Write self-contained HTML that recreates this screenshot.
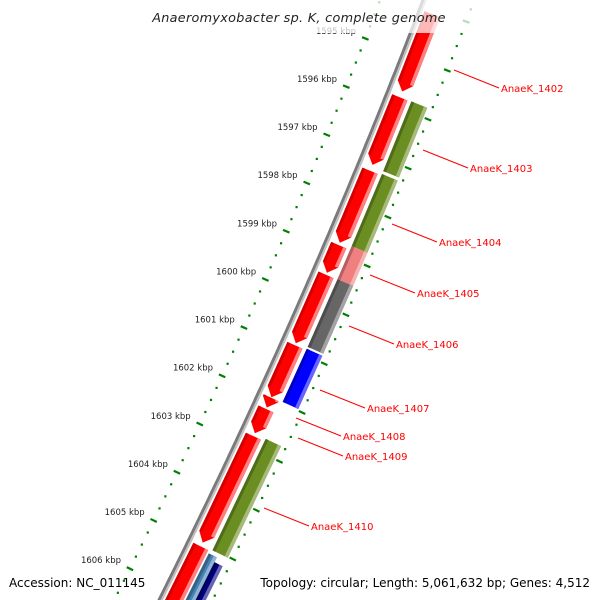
<!DOCTYPE html>
<html><head><meta charset="utf-8"><style>
html,body{margin:0;background:#fff;overflow:hidden;width:600px;height:600px}
svg{display:block;font-family:"DejaVu Sans","Liberation Sans",sans-serif;overflow:hidden}
</style></head><body>
<svg id="map" width="600" height="600" viewBox="0 0 600 600" xmlns="http://www.w3.org/2000/svg">
<defs><clipPath id="clip"><rect x="0" y="0" width="600" height="600"/></clipPath></defs>
<g clip-path="url(#clip)">
<g id="ticks"></g>
<g id="backbone"></g>
<g id="genes"></g>
<g id="labels"></g>
</g>
<rect x="0" y="0" width="600" height="33" fill="#fff" fill-opacity="0.72"/>
<text x="299" y="22" text-anchor="middle" font-size="12.8" font-style="italic" fill="#222" letter-spacing="0.3">Anaeromyxobacter sp. K, complete genome</text>
<text x="9" y="587" font-size="12" fill="#000">Accession: NC_011145</text>
<text x="590" y="587" text-anchor="end" font-size="12" fill="#000">Topology: circular; Length: 5,061,632 bp; Genes: 4,512</text>
</svg>
<script>
// data
const tickKbp = [1595,1596,1597,1598,1599,1600,1601,1602,1603,1604,1605,1606];
const fwdStart = [1594.10,1595.81,1597.32,1598.85,1599.46,1600.91,1601.99,1602.22,1602.78,1605.05];
const fwdEnd   = [1595.69,1597.20,1598.80,1599.42,1600.87,1601.98,1602.19,1602.72,1604.97,1606.80];
const revStart = [1593.0,1595.80,1597.29,1598.77,1599.45,1600.88,1602.73,1605.10,1605.20];
const revEnd   = [1593.75,1597.23,1598.77,1599.45,1600.84,1601.97,1605.02,1606.80,1606.80];
const revColor = ['#0000ff','#6b8e23','#6b8e23','#f08080','#666666','#0000ff','#6b8e23','#4682b4','#000080'];
const revLane  = [0,0,0,0,0,0,0,1,2];
const labelNames = ['AnaeK_1402','AnaeK_1403','AnaeK_1404','AnaeK_1405','AnaeK_1406','AnaeK_1407','AnaeK_1408','AnaeK_1409','AnaeK_1410'];

const NS='http://www.w3.org/2000/svg';
function yb(k){return 53+(k-1595)*48.5;}
function P(k,off){const y=yb(k);const x=423-0.38*y-0.0001*y*y;const s=0.38+0.0002*y;const L=Math.sqrt(1+s*s);return [x+off/L,y+off*s/L];}
function pts(a){return a.map(p=>p[0].toFixed(1)+','+p[1].toFixed(1)).join(' ');}
function mk(tag,attrs,parent){const e=document.createElementNS(NS,tag);for(const k in attrs)e.setAttribute(k,attrs[k]);parent.appendChild(e);return e;}
function curve(off,k1,k2){const a=[];for(let k=k1;k<=k2;k+=0.1)a.push(P(k,off));return a;}

// backbone
const bb=document.getElementById('backbone');
let e=mk('polyline',{points:pts(curve(0,1593,1607.2)),fill:'none',stroke:'#7a7a7a','stroke-width':3},bb);


e=mk('polyline',{points:pts(curve(2.5,1593,1607.2)),fill:'none',stroke:'#c0c0c0','stroke-width':2},bb);



// ticks rings
const tg=document.getElementById('ticks');
[-40,48].forEach(off=>{
  for(let k=1593;k<=1607.2;k+=0.25){
    const kk=Math.round(k*100)/100;
    if(Number.isInteger(kk)){
      const a=P(kk,off-3.5),b=P(kk,off+3.5);
      e=mk('line',{x1:a[0],y1:a[1],x2:b[0],y2:b[1],stroke:'#008000','stroke-width':2.2},tg);
      
      
    } else {
      const a=P(kk,off);
      e=mk('rect',{x:a[0]-1.1,y:a[1]-1.1,width:2.2,height:2.2,fill:'#008000'},tg);
      
      
    }
  }
});
tickKbp.forEach(k=>{
  const a=P(k,-50);
  e=mk('text',{x:a[0].toFixed(1),y:(a[1]-1).toFixed(1),'text-anchor':'end','font-size':8.5,fill:'#222'},tg);
  e.textContent=k+' kbp';
  
  
});

// genes
const gg=document.getElementById('genes');
function gene(k1,k2,a,b,col,dark,light,arrow,name){
  const h=arrow?0.17:0;
  const g=mk('g',{},gg);
  
  
  const body=arrow?[P(k1,a),P(k1,b),P(k2-h,b),P(k2,(a+b)/2),P(k2-h,a)]:[P(k1,a),P(k1,b),P(k2,b),P(k2,a)];
  mk('polygon',{points:pts(body),fill:col},g);
  mk('polygon',{points:pts([P(k1,a),P(k1,a+3),P(k2-h,a+3),P(k2-h,a)]),fill:dark},g);
  mk('polygon',{points:pts([P(k1,b-3.5),P(k1,b),P(k2-h,b),P(k2-h,b-3.5)]),fill:light},g);
}
for(let i=0;i<fwdStart.length;i++){
  gene(fwdStart[i],fwdEnd[i],5.5,22,'#ff0000','#d40000','#ff8080',true,'forward-gene-'+(i+1));
}
const lanes=[[26,43],[24,33],[33,42]];
function lighten(c){const n=parseInt(c.slice(1),16);const r=n>>16,g=(n>>8)&255,b=n&255;const f=v=>Math.round(v+(255-v)*0.4);return 'rgb('+f(r)+','+f(g)+','+f(b)+')';}
function darken(c){const n=parseInt(c.slice(1),16);const r=n>>16,g=(n>>8)&255,b=n&255;const f=v=>Math.round(v*0.75);return 'rgb('+f(r)+','+f(g)+','+f(b)+')';}
for(let i=0;i<revStart.length;i++){
  const l=(i===0)?[-20,-8]:lanes[revLane[i]];
  gene(revStart[i],revEnd[i],l[0],l[1],revColor[i],darken(revColor[i]),lighten(revColor[i]),false,'reverse-gene-'+(i+1));
}

// labels
const lg=document.getElementById('labels');
const lx1=[454,423,392,370,349,320,296,298,264];
const ly1=[70,150,224,275,326,390,418,438,508];
labelNames.forEach((n,i)=>{
  const x2=lx1[i]+45,y2=ly1[i]+18;
  e=mk('line',{x1:lx1[i],y1:ly1[i],x2:x2,y2:y2,stroke:'#ff0000','stroke-width':1},lg);
  
  
  e=mk('text',{x:x2+2,y:y2+4,'font-size':10,fill:'#ff0000'},lg);
  e.textContent=n;
  
  
});
</script>
</body></html>
